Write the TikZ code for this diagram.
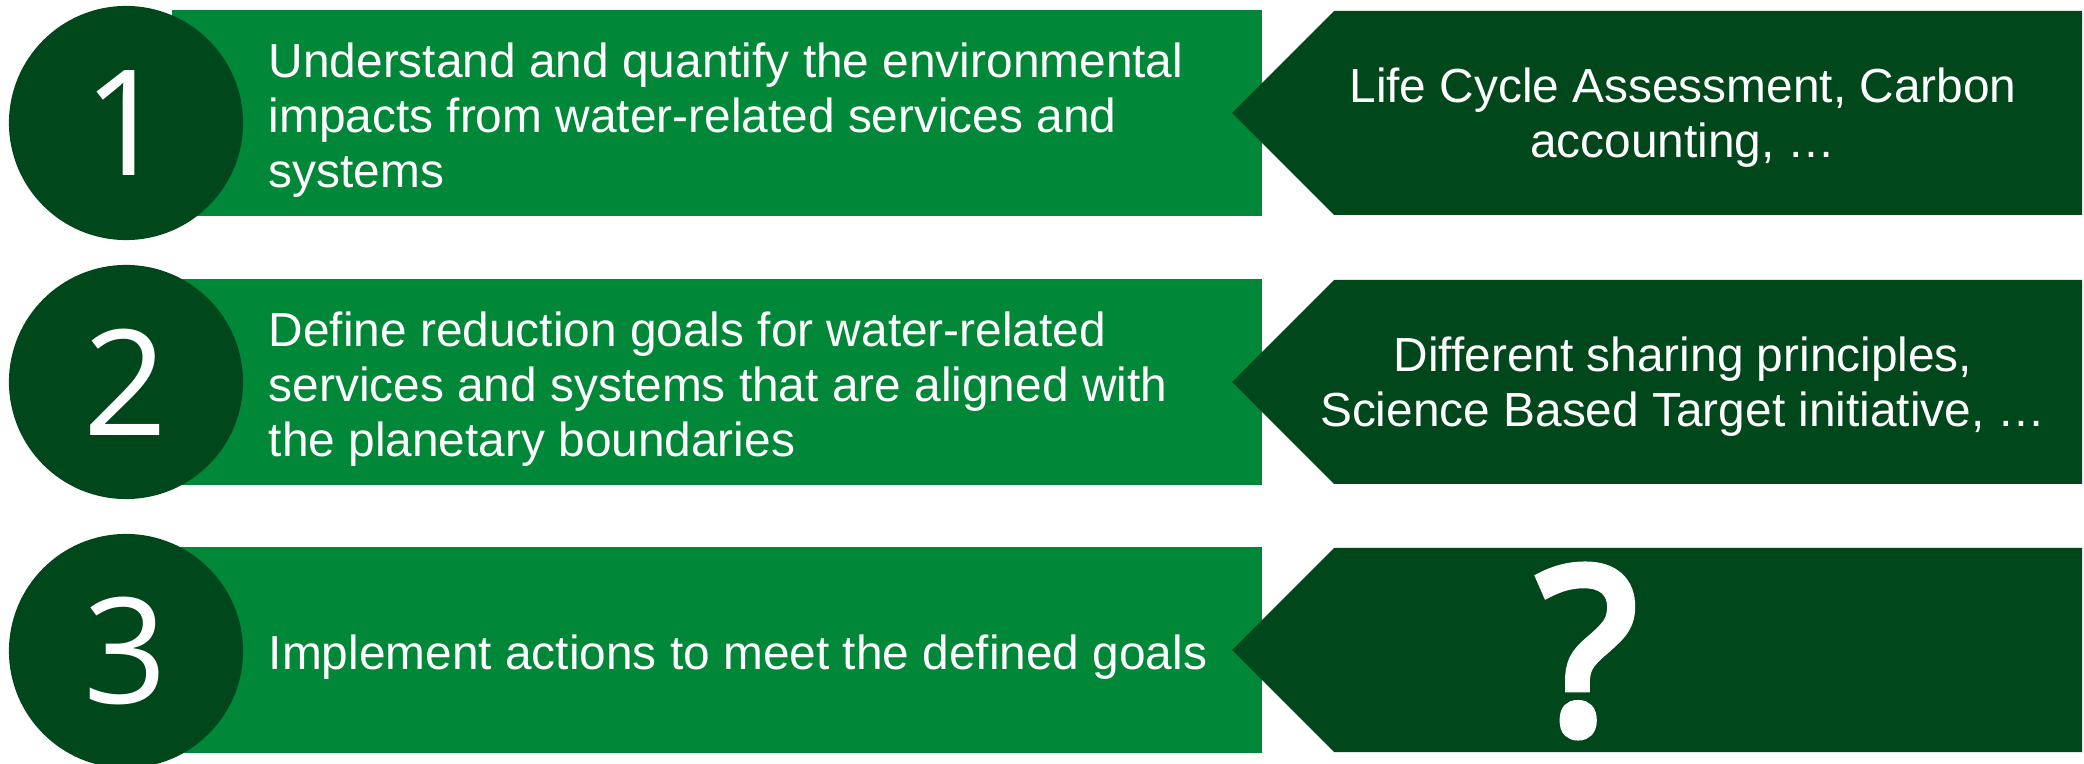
\documentclass[tikz,border=0pt]{standalone}
\usepackage{fontspec}
\setmainfont{Liberation Sans}
\newfontfamily\numfont{Open Sans}
\newfontfamily\askfont{Open Sans}[FakeBold=4.5]
\usepackage{tikz}
\usetikzlibrary{positioning}
\definecolor{leafgreen}{RGB}{0,135,55}
\definecolor{forestgreen}{RGB}{0,71,27}

\begin{document}
\begin{tikzpicture}[x=0.01cm, y=-0.01cm,
  taskbox/.style = {fill=leafgreen, minimum width=10.9cm, minimum height=2.06cm, inner sep=0pt},
  stepnum/.style = {circle, fill=forestgreen, minimum size=2.34cm, inner sep=0pt, text=white, font=\numfont\fontsize{41.8}{50}\selectfont},
  tasktext/.style = {anchor=west, align=left, inner sep=0pt, text=white, font=\fontsize{13.6}{15.7}\selectfont},
  tooltext/.style = {align=center, inner sep=0pt, text=white, font=\fontsize{13.6}{15.7}\selectfont}]
\useasboundingbox (0,0) rectangle (2084,764);

% green task bars
\node [taskbox] (bar1) at (717,113) {};
\node [taskbox] (bar2) at (717,382) {};
\node [taskbox] (bar3) at (717,650) {};

% dark arrows pointing at the bars
\fill [forestgreen] (1232,113) -- (1334,11) -- (2082,11) -- (2082,215) -- (1334,215) -- cycle;
\fill [forestgreen] (1232,382) -- (1334,280) -- (2082,280) -- (2082,484) -- (1334,484) -- cycle;
\fill [forestgreen] (1232,650) -- (1334,548) -- (2082,548) -- (2082,752) -- (1334,752) -- cycle;

% step numbers
\node [stepnum] (num1) at (126,123) {1};
\node [stepnum] (num2) at (126,382) {2};
\node [stepnum] (num3) at (126,651) {3};

% texts
\node [tasktext] (task1) at (268,120) {Understand and quantify the environmental\\impacts from water-related services and\\systems};
\node [tasktext] (task2) at (268,389) {Define reduction goals for water-related\\services and systems that are aligned with\\the planetary boundaries};
\node [tasktext] (task3) at (268,657) {Implement actions to meet the defined goals};

\node [tooltext] (tool1) at (1683,118) {Life Cycle Assessment, Carbon\\accounting, …};
\node [tooltext] (tool2) at (1683,387) {Different sharing principles,\\Science Based Target initiative, …};
\node [tooltext, font=\askfont\fontsize{65}{66}\selectfont] (tool3) at (1587,651) {?};
\end{tikzpicture}
\end{document}
